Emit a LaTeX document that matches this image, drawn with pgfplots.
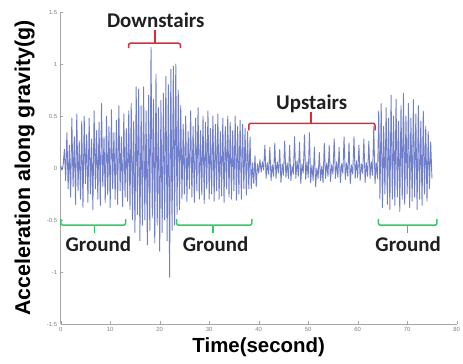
\documentclass[border=0pt]{standalone}
\usepackage{pgfplots}
\pgfplotsset{compat=1.18}
\usepackage{fontspec}
\setmainfont{Liberation Sans}
\newfontfamily\annfont{Carlito}
\definecolor{sig}{RGB}{58,78,182}
\definecolor{bred}{RGB}{226,42,52}
\definecolor{bgreen}{RGB}{46,204,100}
\begin{document}
\begin{tikzpicture}
\path[use as bounding box] (-60.7bp,-40bp) rectangle (402.3bp,324bp);
\begin{axis}[
 at={(0,0)}, anchor=south west,
 scale only axis, width=396bp, height=312bp,
 xmin=0, xmax=80, ymin=-1.5, ymax=1.5,
 axis x line*=bottom, axis y line*=left,
 axis line style={draw=gray!70, line width=0.6bp},
 xtick={0,10,...,80}, ytick={-1.5,-1,-0.5,0,0.5,1,1.5},
 tick align=inside, major tick length=2.5bp,
 tick style={gray!70},
 tick label style={font=\fontsize{6}{7}\selectfont, text=gray},
 /pgf/number format/assume math mode=true,
 xlabel={Time(second)},
 ylabel={Acceleration along gravity(g)},
 xlabel style={font=\fontsize{20.5}{24}\selectfont\bfseries, at={(axis description cs:0.5,-0.074)}, anchor=center},
 ylabel style={font=\fontsize{21.5}{25}\selectfont\bfseries, at={(axis description cs:-0.0909,0.5)}, anchor=center},
 clip=false,
]
\addplot[color=sig, line width=0.9bp, opacity=0.72, line join=round] coordinates {
(0,0.02)(0.25,-0.02)(0.5,0.03)
(0.75,0.18)(1.0,-0.12)(1.25,0.34)(1.5,-0.2)(1.75,0.22)(2.0,-0.28)(2.25,0.48)(2.5,-0.18)(2.75,0.3)(3.0,-0.35)
(3.25,0.52)(3.5,-0.22)(3.75,0.26)(4.0,-0.3)(4.25,0.45)(4.5,-0.38)(4.75,0.5)(5.0,-0.15)(5.25,0.32)(5.5,-0.33)
(5.75,0.48)(6.0,-0.25)(6.25,0.28)(6.5,-0.4)(6.75,0.55)(7.0,-0.2)(7.25,0.36)(7.5,-0.3)(7.75,0.44)(8.0,-0.36)
(8.25,0.62)(8.5,-0.18)(8.75,0.3)(9.0,-0.33)(9.25,0.5)(9.5,-0.26)(9.75,0.4)(10.0,-0.38)(10.25,0.56)(10.5,-0.2)
(10.75,0.34)(11.0,-0.3)(11.25,0.46)(11.5,-0.35)(11.75,0.6)(12.0,-0.22)(12.25,0.3)(12.5,-0.37)(12.75,0.52)(13.0,-0.28)
(13.25,0.38)(13.5,-0.32)
(13.75,0.55)(14.0,-0.4)(14.25,0.62)(14.5,-0.5)(14.75,0.45)(15.0,-0.62)(15.25,0.78)(15.5,-0.45)(15.75,0.76)(16.0,-0.7)
(16.25,0.6)(16.5,-0.55)(16.75,0.78)(17.0,-0.5)(17.25,0.55)(17.5,-0.74)(17.75,0.7)(18.0,-0.6)(18.25,1.16)(18.5,-0.48)
(18.75,0.66)(19.0,-0.72)(19.25,0.9)(19.5,-0.55)(19.75,0.58)(20.0,-0.8)(20.25,0.65)(20.5,-0.62)(20.75,0.72)(21.0,-0.5)
(21.25,0.88)(21.5,-0.7)(21.75,0.8)(22.0,-1.05)(22.25,0.95)(22.5,-0.6)(22.75,0.98)(23.0,-0.55)(23.25,1.0)(23.5,-0.45)
(23.75,0.75)(24.0,-0.4)
(24.25,0.6)(24.5,-0.3)(24.75,0.42)(25.0,-0.25)(25.25,0.5)(25.5,-0.32)(25.75,0.35)(26.0,-0.2)(26.25,0.55)(26.5,-0.28)
(26.75,0.4)(27.0,-0.33)(27.25,0.48)(27.5,-0.22)(27.75,0.58)(28.0,-0.3)(28.25,0.36)(28.5,-0.26)(28.75,0.5)(29.0,-0.34)
(29.25,0.44)(29.5,-0.2)(29.75,0.55)(30.0,-0.3)(30.25,0.38)(30.5,-0.25)(30.75,0.5)(31.0,-0.32)(31.25,0.42)(31.5,-0.22)
(31.75,0.52)(32.0,-0.3)(32.25,0.35)(32.5,-0.27)(32.75,0.48)(33.0,-0.33)(33.25,0.4)(33.5,-0.2)(33.75,0.5)(34.0,-0.28)
(34.25,0.44)(34.5,-0.3)(34.75,0.36)(35.0,-0.22)(35.25,0.5)(35.5,-0.31)(35.75,0.4)(36.0,-0.25)(36.25,0.46)(36.5,-0.3)
(36.75,0.42)(37.0,-0.2)(37.25,0.38)(37.5,-0.26)(37.75,0.35)(38.0,-0.2)
(38.25,0.3)(38.5,-0.2)(38.75,0.05)(39.0,-0.15)
(39.25,0.12)(39.5,-0.18)(39.75,0.04)(40.0,-0.05)
(40.25,0.08)(40.5,-0.04)(40.75,0.06)(41.0,-0.02)
(41.25,0.22)(41.5,-0.1)(41.75,0.05)(42.0,-0.06)
(42.25,0.2)(42.5,-0.12)(42.75,0.03)(43.0,-0.08)
(43.25,0.24)(43.5,-0.1)(43.75,0.06)(44.0,-0.05)
(44.25,0.18)(44.5,-0.14)(44.75,0.04)(45.0,-0.07)
(45.25,0.26)(45.5,-0.09)(45.75,0.05)(46.0,-0.1)
(46.25,0.22)(46.5,-0.12)(46.75,0.02)(47.0,-0.06)
(47.25,0.3)(47.5,-0.1)(47.75,0.07)(48.0,-0.08)
(48.25,0.25)(48.5,-0.15)(48.75,0.04)(49.0,-0.05)
(49.25,0.32)(49.5,-0.11)(49.75,0.06)(50.0,-0.09)
(50.25,0.34)(50.5,-0.14)(50.75,0.03)(51.0,-0.12)
(51.25,0.2)(51.5,-0.18)(51.75,0.0)(52.0,-0.1)
(52.25,0.15)(52.5,-0.12)(52.75,0.02)(53.0,-0.14)
(53.25,0.24)(53.5,-0.1)(53.75,0.05)(54.0,-0.08)
(54.25,0.22)(54.5,-0.13)(54.75,0.03)(55.0,-0.06)
(55.25,0.28)(55.5,-0.1)(55.75,0.06)(56.0,-0.09)
(56.25,0.2)(56.5,-0.14)(56.75,0.04)(57.0,-0.05)
(57.25,0.3)(57.5,-0.11)(57.75,0.05)(58.0,-0.08)
(58.25,0.24)(58.5,-0.15)(58.75,0.03)(59.0,-0.06)
(59.25,0.3)(59.5,-0.1)(59.75,0.07)(60.0,-0.09)
(60.25,0.22)(60.5,-0.12)(60.75,0.04)(61.0,-0.05)
(61.25,0.28)(61.5,-0.14)(61.75,0.05)(62.0,-0.08)
(62.25,0.26)(62.5,-0.1)(62.75,0.06)(63.0,-0.07)
(63.25,0.4)(63.5,-0.15)(63.75,0.05)(64.0,-0.1)
(64.25,0.55)(64.5,-0.3)(64.75,0.62)(65.0,-0.38)(65.25,0.4)(65.5,-0.25)(65.75,0.58)(66.0,-0.35)(66.25,0.48)(66.5,-0.4)
(66.75,0.7)(67.0,-0.3)(67.25,0.5)(67.5,-0.36)(67.75,0.66)(68.0,-0.28)(68.25,0.45)(68.5,-0.42)(68.75,0.6)(69.0,-0.3)
(69.25,0.72)(69.5,-0.35)(69.75,0.5)(70.0,-0.25)(70.25,0.62)(70.5,-0.38)(70.75,0.48)(71.0,-0.32)(71.25,0.66)(71.5,-0.28)
(71.75,0.52)(72.0,-0.4)(72.25,0.6)(72.5,-0.3)(72.75,0.45)(73.0,-0.36)(73.25,0.55)(73.5,-0.25)(73.75,0.4)(74.0,-0.32)
(74.25,0.35)(74.5,-0.2)(74.75,0.25)(75.0,-0.1)
};
% Downstairs brace
\draw[bred, line width=1.5bp, rounded corners=2bp] ([yshift=-5bp]axis cs:13.7,1.2) -- (axis cs:13.7,1.2) -- (axis cs:24.2,1.2) -- ([yshift=-5bp]axis cs:24.2,1.2);
\draw[bred, line width=1.5bp] (axis cs:19.1,1.2) -- ([yshift=13bp]axis cs:19.1,1.2);
\node[font=\annfont\bfseries\fontsize{21}{24}\selectfont, text=black!88] at (axis cs:19.2,1.42) {Downstairs};
% Upstairs brace
\draw[bred, line width=1.5bp, rounded corners=2bp] ([yshift=-7bp]axis cs:38,0.43) -- (axis cs:38,0.43) -- (axis cs:63.5,0.43) -- ([yshift=-7bp]axis cs:63.5,0.43);
\draw[bred, line width=1.5bp] (axis cs:50.6,0.43) -- ([yshift=11bp]axis cs:50.6,0.43);
\node[font=\annfont\bfseries\fontsize{21}{24}\selectfont, text=black!88] at (axis cs:50.7,0.62) {Upstairs};
% Ground braces
\draw[bgreen, line width=1.5bp, rounded corners=2bp] ([yshift=6bp]axis cs:0.05,-0.55) -- (axis cs:0.05,-0.55) -- (axis cs:13.1,-0.55) -- ([yshift=6bp]axis cs:13.1,-0.55);
\draw[bgreen, line width=1.5bp] (axis cs:6.8,-0.55) -- ([yshift=-8bp]axis cs:6.8,-0.55);
\node[font=\annfont\bfseries\fontsize{21}{24}\selectfont, text=black!88] at (axis cs:7.6,-0.73) {Ground};
\draw[bgreen, line width=1.5bp, rounded corners=2bp] ([yshift=6bp]axis cs:23.4,-0.55) -- (axis cs:23.4,-0.55) -- (axis cs:38.6,-0.55) -- ([yshift=6bp]axis cs:38.6,-0.55);
\draw[bgreen, line width=1.5bp] (axis cs:30.8,-0.55) -- ([yshift=-8bp]axis cs:30.8,-0.55);
\node[font=\annfont\bfseries\fontsize{21}{24}\selectfont, text=black!88] at (axis cs:31.3,-0.73) {Ground};
\draw[bgreen, line width=1.5bp, rounded corners=2bp] ([yshift=6bp]axis cs:64.2,-0.55) -- (axis cs:64.2,-0.55) -- (axis cs:76,-0.55) -- ([yshift=6bp]axis cs:76,-0.55);
\draw[bgreen, line width=1.5bp] (axis cs:70.1,-0.55) -- ([yshift=-8bp]axis cs:70.1,-0.55);
\node[font=\annfont\bfseries\fontsize{21}{24}\selectfont, text=black!88] at (axis cs:70.2,-0.73) {Ground};
\end{axis}
\end{tikzpicture}
\end{document}
